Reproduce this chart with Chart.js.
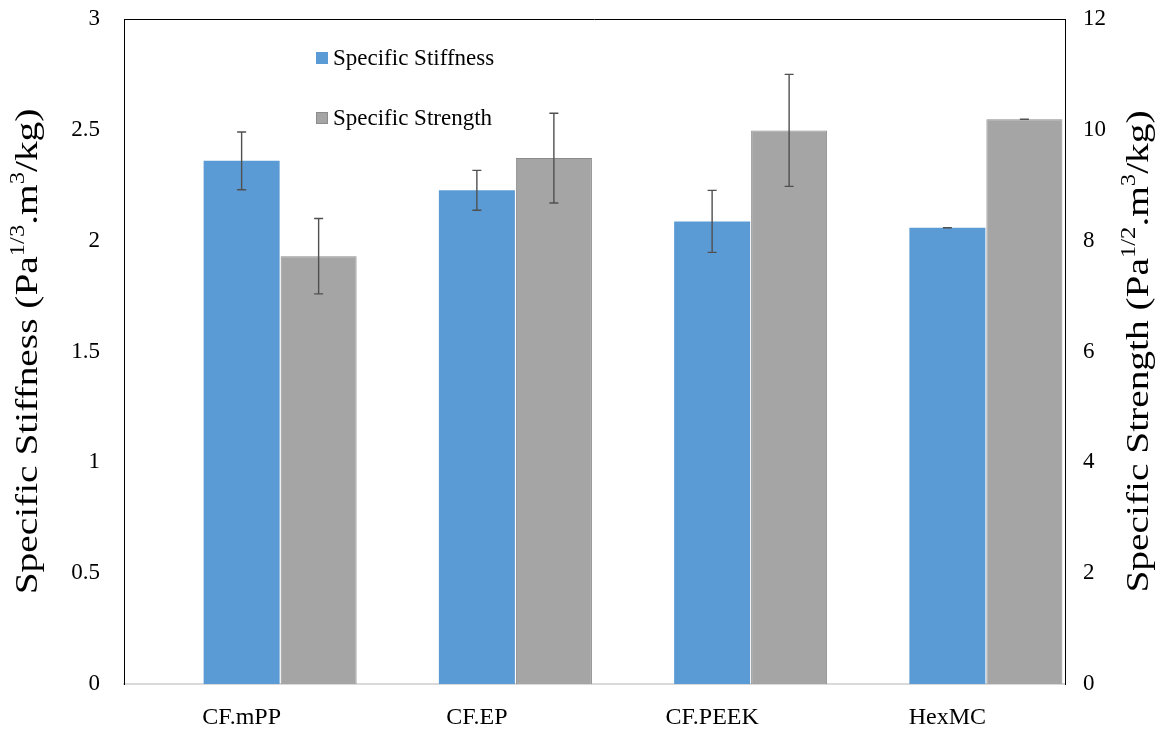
<!DOCTYPE html>
<html>
<head>
<meta charset="utf-8">
<script src="https://cdn.jsdelivr.net/npm/chart.js@4/dist/chart.umd.min.js"></script>
<style>
  html, body { margin: 0; padding: 0; background: #ffffff; }
  #wrap { width: 1173px; height: 729px; position: relative; }
</style>
</head>
<body>
<div id="wrap"><canvas id="c" width="1173" height="729"></canvas></div>
<script>
// Materials compared
const categories = ['CF.mPP', 'CF.EP', 'CF.PEEK', 'HexMC'];

// Specific stiffness (left axis) with its error
const stiffness    = [2.36, 2.227, 2.087, 2.058];
const stiffnessErr = [0.13, 0.09, 0.14, 0];

// Specific strength (right axis) with its error
const strength     = [7.72, 9.49, 9.99, 10.19];
const strengthErr  = [0.68, 0.81, 1.01, 0];

// Axis ranges and tick steps
const leftTicks  = { min: 0, max: 3,  step: 0.5 };
const rightTicks = { min: 0, max: 12, step: 2 };

const SERIF = '"Liberation Serif", "Times New Roman", serif';
const BLUE = '#5b9bd5';
const GREY = '#a5a5a5';

// Vertical error bars with caps, centred on each bar
const errorBars = {
  id: 'errorBars',
  afterDatasetsDraw(chart) {
    const ctx = chart.ctx;
    chart.data.datasets.forEach((ds, i) => {
      if (!ds.errors) return;
      const meta = chart.getDatasetMeta(i);
      const scale = chart.scales[ds.yAxisID];
      meta.data.forEach((bar, j) => {
        const v = ds.data[j];
        if (v == null) return;
        const e = ds.errors[j];
        const yTop = scale.getPixelForValue(v + e);
        const yBot = scale.getPixelForValue(v - e);
        const x = bar.x;
        ctx.save();
        ctx.strokeStyle = '#505050';
        ctx.lineWidth = 1.4;
        ctx.beginPath();
        ctx.moveTo(x, yTop); ctx.lineTo(x, yBot);
        ctx.moveTo(x - 4.5, yTop); ctx.lineTo(x + 4.5, yTop);
        ctx.moveTo(x - 4.5, yBot); ctx.lineTo(x + 4.5, yBot);
        ctx.stroke();
        ctx.restore();
      });
    });
  }
};

// Top edge of the plot frame
const frameTop = {
  id: 'frameTop',
  afterDraw(chart) {
    const { ctx, chartArea: a } = chart;
    ctx.save();
    ctx.strokeStyle = '#000000';
    ctx.lineWidth = 1;
    ctx.beginPath();
    ctx.moveTo(a.left, a.top + 0.5);
    ctx.lineTo(a.right, a.top + 0.5);
    ctx.stroke();
    ctx.restore();
  }
};

// Legend placed inside the plot area
const innerLegend = {
  id: 'innerLegend',
  afterDraw(chart) {
    const { ctx, chartArea: a } = chart;
    const items = chart.data.datasets.filter(d => d.label);
    const x0 = a.left + 192;
    ctx.save();
    ctx.font = '23px ' + SERIF;
    ctx.textBaseline = 'middle';
    items.forEach((d, i) => {
      const y = a.top + 39 + i * 60;
      ctx.fillStyle = d.backgroundColor;
      ctx.fillRect(x0, y - 6, 12, 12);
      if (d.borderWidth) {
        ctx.strokeStyle = d.borderColor;
        ctx.lineWidth = 1;
        ctx.strokeRect(x0 + 0.5, y - 5.5, 11, 11);
      }
      ctx.fillStyle = '#000000';
      ctx.fillText(d.label, x0 + 17, y + 1);
    });
    ctx.restore();
  }
};

// Rotated axis titles with superscript units
function drawRich(ctx, parts, size) {
  const measure = p => {
    ctx.font = (p.sup ? Math.round(size * 0.62) : size) + 'px ' + SERIF;
    return ctx.measureText(p.t).width;
  };
  let total = 0;
  parts.forEach(p => total += measure(p));
  let x = -total / 2;
  parts.forEach(p => {
    const w = measure(p);
    ctx.fillText(p.t, x, p.sup ? -size * 0.42 : 0);
    x += w;
  });
  return total;
}
const axisTitles = {
  id: 'axisTitles',
  afterDraw(chart) {
    const { ctx, chartArea: a } = chart;
    const cy = (a.top + a.bottom) / 2;
    const titles = [
      { x: 37, parts: [{ t: 'Specific Stiffness (Pa' }, { t: '1/3', sup: true }, { t: '.m' }, { t: '3', sup: true }, { t: '/kg)' }] },
      { x: 1148, parts: [{ t: 'Specific Strength (Pa' }, { t: '1/2', sup: true }, { t: '.m' }, { t: '3', sup: true }, { t: '/kg)' }] }
    ];
    titles.forEach(tt => {
      ctx.save();
      ctx.fillStyle = '#000000';
      ctx.textBaseline = 'alphabetic';
      ctx.translate(tt.x, cy);
      ctx.rotate(-Math.PI / 2);
      ctx.scale(1.23, 1);
      drawRich(ctx, tt.parts, 32);
      ctx.restore();
    });
  }
};

// Fix the axis box sizes so the plot frame sits where intended
function fixVertical(width) {
  return s => { s.width = width; s.paddingTop = 0; s.paddingBottom = 0; };
}

new Chart(document.getElementById('c'), {
  type: 'bar',
  data: {
    labels: categories,
    datasets: [
      { label: '', data: categories.map(() => null), yAxisID: 'y', backgroundColor: 'rgba(0,0,0,0)' },
      { label: 'Specific Stiffness', data: stiffness, errors: stiffnessErr, yAxisID: 'y',
        backgroundColor: BLUE, borderWidth: 0 },
      { label: 'Specific Strength', data: strength, errors: strengthErr, yAxisID: 'y2',
        backgroundColor: GREY, borderColor: '#8c8c8c', borderWidth: 1 }
    ]
  },
  options: {
    responsive: false,
    animation: false,
    events: [],
    layout: { padding: { top: 19, left: 0, right: 0, bottom: 0 } },
    datasets: { bar: { categoryPercentage: 0.982, barPercentage: 76 / 77 } },
    plugins: {
      legend: { display: false },
      tooltip: { enabled: false }
    },
    scales: {
      x: {
        offset: true,
        grid: { display: false },
        border: { display: true, color: '#d9d9d9', width: 2 },
        ticks: { color: '#000000', font: { family: SERIF, size: 24 }, padding: 11, maxRotation: 0 },
        afterFit(s) { s.height = 45; s.paddingLeft = 0; s.paddingRight = 0; }
      },
      y: {
        position: 'left',
        min: leftTicks.min, max: leftTicks.max,
        grid: { display: false, drawTicks: false },
        border: { display: true, color: '#000000', width: 1 },
        ticks: { stepSize: leftTicks.step, color: '#000000', padding: 24,
                 font: { family: SERIF, size: 23 },
                 callback: v => String(v) },
        afterFit: fixVertical(124)
      },
      y2: {
        position: 'right',
        min: rightTicks.min, max: rightTicks.max,
        grid: { display: false, drawTicks: false },
        border: { display: true, color: '#000000', width: 1 },
        ticks: { stepSize: rightTicks.step, color: '#000000', padding: 18,
                 font: { family: SERIF, size: 23 },
                 callback: v => String(v) },
        afterFit: fixVertical(108)
      }
    }
  },
  plugins: [errorBars, frameTop, innerLegend, axisTitles]
});
</script>
</body>
</html>
